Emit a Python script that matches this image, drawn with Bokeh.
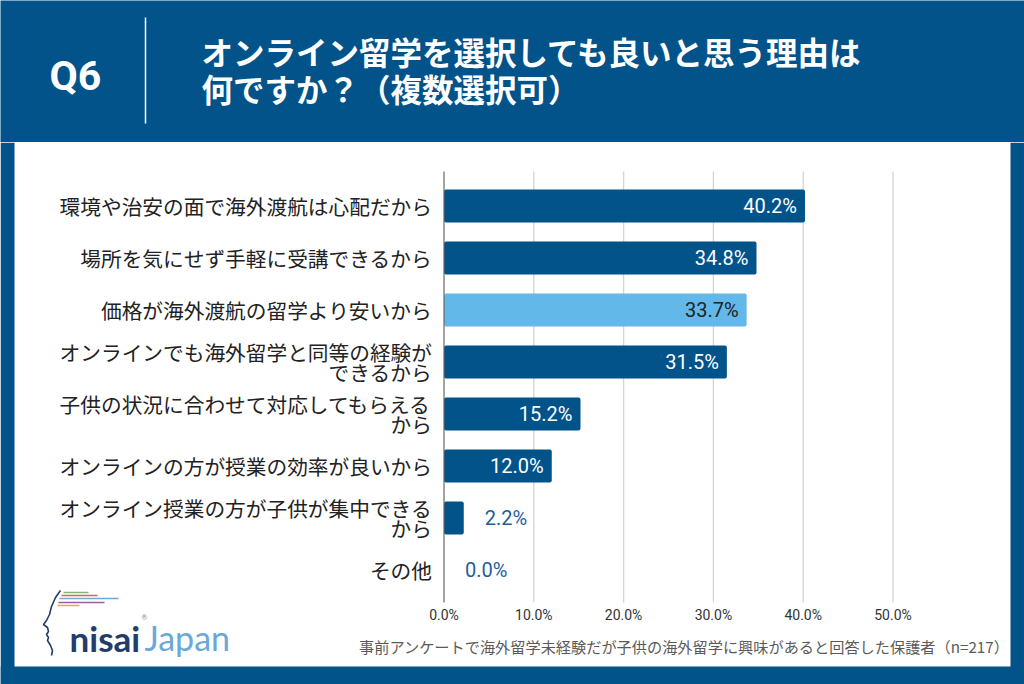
from bokeh.plotting import figure
from bokeh.models import Range1d, ColumnDataSource
from bokeh.layouts import column
from bokeh.core.properties import value
from bokeh.embed import file_html
from bokeh.resources import INLINE

# ---------------- data ----------------
categories = [
    "環境や治安の面で海外渡航は心配だから",
    "場所を気にせず手軽に受講できるから",
    "価格が海外渡航の留学より安いから",
    "オンラインでも海外留学と同等の経験が\nできるから",
    "子供の状況に合わせて対応してもらえる\nから",
    "オンラインの方が授業の効率が良いから",
    "オンライン授業の方が子供が集中できる\nから",
    "その他",
]
values = [40.2, 34.8, 33.7, 31.5, 15.2, 12.0, 2.2, 0.0]
highlight = [False, False, True, False, False, False, False, False]
x_ticks = [0, 10, 20, 30, 40, 50]
question_no = "Q6"
title_lines = ["オンライン留学を選択しても良いと思う理由は", "何ですか？（複数選択可）"]
footnote = "事前アンケートで海外留学未経験だが子供の海外留学に興味があると回答した保護者（n=217）"
logo_main = "nisai"
logo_sub = "Japan"

# ---------------- style / layout constants ----------------
BG = "#01538a"
DARK = "#01538a"
LIGHT = "#62b8e8"
JP = "Noto Sans CJK JP"

W = 1024
HEAD_H = 142
MID_H = 542
X0_PX = 443.5        # pixel of value 0
PX_PER_UNIT = 8.98   # pixels per 1 %
CAT0_PX = 63.5       # pixel (from panel top) of first category centre
CAT_PITCH = 52.0
PLOT_TOP = 29
PLOT_BOTTOM = 460

# ---------------- header ----------------
head = figure(width=W, height=HEAD_H, output_backend="svg", toolbar_location=None,
              x_axis_type=None, y_axis_type=None, min_border=0,
              x_range=Range1d(0, W), y_range=Range1d(HEAD_H, 0))
head.background_fill_color = BG
head.border_fill_color = BG
head.outline_line_color = None
head.grid.visible = False
head.segment(x0=[145], y0=[17], x1=[145], y1=[123], line_color="white", line_width=1.5)
head.text(x=[49], y=[75], text=[question_no], text_color="white", text_font=value("Roboto"),
          text_font_style="bold", text_font_size="41px", text_baseline="middle", text_align="left")
head.text(x=[201, 201], y=[50, 87], text=title_lines, text_color="white", text_font=value(JP),
          text_font_style="bold", text_font_size="31.5px", text_baseline="middle", text_align="left")

# ---------------- chart panel ----------------
n = len(categories)
ypos = list(range(n))
x_start = -X0_PX / PX_PER_UNIT
x_end = (W - X0_PX) / PX_PER_UNIT
y_top = -CAT0_PX / CAT_PITCH
y_bot = (MID_H - CAT0_PX) / CAT_PITCH

p = figure(width=W, height=MID_H, output_backend="svg", toolbar_location=None,
           x_axis_type=None, y_axis_type=None, min_border=0,
           x_range=Range1d(x_start, x_end), y_range=Range1d(y_bot, y_top))
p.extra_x_ranges = {"px": Range1d(0, W)}
p.extra_y_ranges = {"py": Range1d(MID_H, 0)}
p.background_fill_color = "white"
p.border_fill_color = "white"
p.outline_line_color = None
p.grid.visible = False

# blue frame around the white panel
p.quad(left=[0, W - 14, 0], right=[14, W, W], top=[0, 0, 524], bottom=[MID_H, MID_H, MID_H],
       x_range_name="px", y_range_name="py", fill_color=BG, line_color=None)

# grid lines
p.segment(x0=x_ticks[1:], x1=x_ticks[1:], y0=[PLOT_TOP] * (len(x_ticks) - 1),
          y1=[PLOT_BOTTOM] * (len(x_ticks) - 1), y_range_name="py",
          line_color="#d4d4d4", line_width=1.3)

# bars
colors = [LIGHT if h else DARK for h in highlight]
src = ColumnDataSource(dict(y=ypos, x=values, color=colors))
p.hbar(y="y", right="x", left=0, height=0.635, fill_color="color", line_color=None,
       source=src, border_radius=2)

# axis line at 0
p.segment(x0=[0], x1=[0], y0=[PLOT_TOP], y1=[PLOT_BOTTOM], y_range_name="py",
          line_color="#666666", line_width=1.2)

# value labels
inside = [i for i, v in enumerate(values) if v >= 5]
outside = [i for i, v in enumerate(values) if v < 5]
in_src = ColumnDataSource(dict(
    x=[values[i] for i in inside], y=[ypos[i] for i in inside],
    t=["%.1f%%" % values[i] for i in inside],
    c=["#222222" if highlight[i] else "white" for i in inside]))
out_src = ColumnDataSource(dict(
    x=[values[i] for i in outside], y=[ypos[i] for i in outside],
    t=["%.1f%%" % values[i] for i in outside]))
p.text(x="x", y="y", text="t", source=in_src, text_color="c", text_align="right",
       text_baseline="middle", x_offset=-8, text_font=value("Roboto"), text_font_size="20px")
p.text(x="x", y="y", text="t", source=out_src, text_color="#1d5f9c", text_align="left",
       text_baseline="middle", x_offset=21, text_font=value("Roboto"), text_font_size="20px")

# category labels (y axis)
cat_src = ColumnDataSource(dict(x=[0] * n, y=ypos, t=categories))
p.text(x="x", y="y", text="t", source=cat_src, text_align="right", text_baseline="middle",
       x_offset=-12, text_color="#222222", text_font=value(JP), text_font_size="20.7px",
       text_line_height=0.68)

# x tick labels
tick_src = ColumnDataSource(dict(x=x_ticks, y=[472] * len(x_ticks),
                                 t=["%.1f%%" % t for t in x_ticks]))
p.text(x="x", y="y", text="t", source=tick_src, y_range_name="py", text_align="center",
       text_baseline="middle", text_color="#333333", text_font=value("Roboto"),
       text_font_size="14px")

# footnote
p.text(x=[1009], y=[503], text=[footnote], x_range_name="px", y_range_name="py",
       text_align="right", text_baseline="middle", text_font=value(JP),
       text_font_size="15.2px", text_color="#5a5a5a")

# logo
logo_lines = [(63, 88, 450, "#7db87c"), (61, 97, 453, "#d8606a"), (59, 118, 456, "#6ea9d8"),
              (58, 104, 460, "#9a5ca2"), (57, 79, 463, "#e6a764")]
for l, r, y, c in logo_lines:
    p.segment(x0=[l], x1=[r], y0=[y], y1=[y], x_range_name="px", y_range_name="py",
              line_color=c, line_width=1.6)
face_x = [60, 55, 51, 49, 46, 43, 47, 48, 46, 48, 47, 50, 52, 51]
face_y = [448, 455, 464, 472, 478, 482, 485, 489, 492, 495, 498, 503, 508, 513]
p.line(x=face_x, y=face_y, x_range_name="px", y_range_name="py", line_color="#233c6c",
       line_width=1.6)
p.text(x=[69], y=[495], text=[logo_main], x_range_name="px", y_range_name="py",
       text_align="left", text_baseline="alphabetic", text_font=value("Lato"),
       text_font_style="bold", text_font_size="35px", text_color="#233c6c")
p.text(x=[141], y=[474], text=["®"], x_range_name="px", y_range_name="py",
       text_align="left", text_baseline="middle", text_font=value("Lato"),
       text_font_size="7px", text_color="#8a8a8a")
p.text(x=[144], y=[495], text=[logo_sub], x_range_name="px", y_range_name="py",
       text_align="left", text_baseline="alphabetic", text_font=value("Lato"),
       text_font_size="34px", text_color="#6aa8d8")

layout = column(head, p)

open("out.html", "w").write(file_html(layout, INLINE))
